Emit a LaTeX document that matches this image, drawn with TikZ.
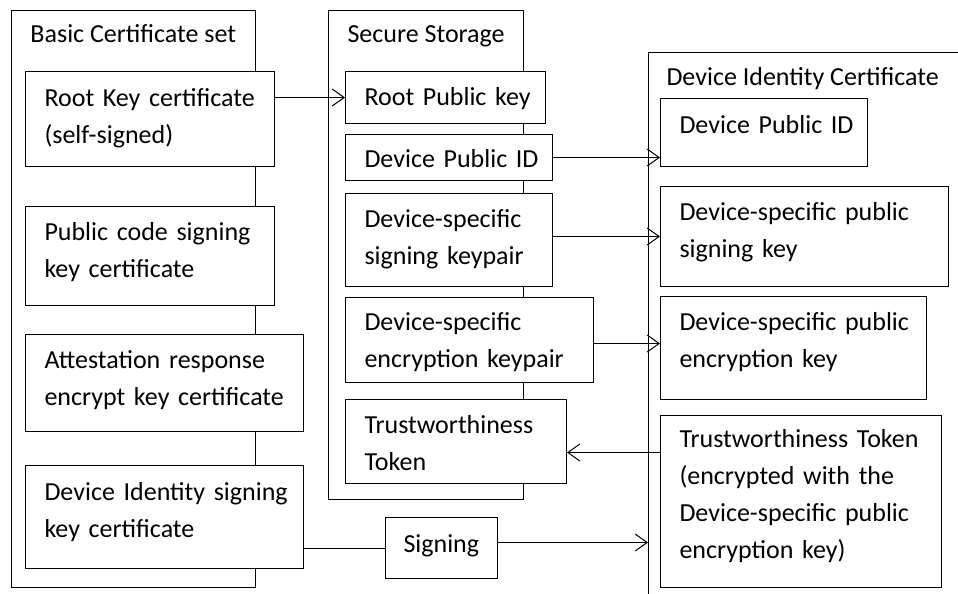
\documentclass[tikz,border=0pt]{standalone}
\usepackage{fontspec}
\setmainfont{Carlito}
\usetikzlibrary{arrows.meta,calc}
\begin{document}
\begin{tikzpicture}[x=1pt,y=-1pt,line width=1pt,
  font=\fontsize{26}{37}\selectfont,
  frame/.style={draw,inner sep=0pt,anchor=north west},
  title/.style={anchor=base west,inner sep=0pt},
  cell/.style n args={3}{draw,fill=white,anchor=north west,align=left,
    inner xsep=19pt,inner ysep=0pt,text width=#1,text height=#2,text depth=#3},
  arr/.style={-{Straight Barb[length=12pt,width=17pt]}}]
\useasboundingbox (0,0) rectangle (958,594);
\clip (0,0) rectangle (958,594);

% group frames
\node[frame,minimum width=244pt,minimum height=577pt] (basic) at (11,10) {};
\node[frame,minimum width=195pt,minimum height=489pt] (secure) at (328,10) {};
\node[frame,minimum width=400pt,minimum height=600pt] (dic) at (648,52) {};

\node[title] (tbasic) at (30,43) {Basic Certificate set};
\node[title] (tsecure) at (347,43) {Secure Storage};
\node[title] (tdic) at (666,85) {Device Identity Certificate};

% basic certificate set
\node[cell={211pt}{35pt}{60pt}] (rk) at (25,71) {\mbox{Root Key certificate}\\\mbox{(self-signed)}};
\node[cell={211pt}{34pt}{65pt}] (pcs) at (25,206) {\mbox{Public code signing}\\\mbox{key certificate}};
\node[cell={240pt}{34pt}{63pt}] (att) at (25,334) {\mbox{Attestation response}\\\mbox{encrypt key certificate}};
\node[cell={240pt}{35pt}{68pt}] (dis) at (25,465) {\mbox{Device Identity signing}\\\mbox{key certificate}};

% secure storage
\node[cell={162pt}{34pt}{18pt}] (rpk) at (345,71) {\mbox{Root Public key}};
\node[cell={169pt}{33pt}{13pt}] (spid) at (345,134) {\mbox{Device Public ID}};
\node[cell={169pt}{34pt}{59pt}] (skp) at (345,193) {\mbox{Device-specific}\\\mbox{signing keypair}};
\node[cell={210pt}{33pt}{52pt}] (ekp) at (345,297) {\mbox{Device-specific}\\\mbox{encryption keypair}};
\node[cell={183pt}{34pt}{50pt}] (stt) at (345,399) {\mbox{Trustworthiness}\\\mbox{Token}};

% signing step
\node[cell={76pt}{35pt}{26pt},inner xsep=18pt] (sig) at (385,517) {\mbox{Signing}};

% device identity certificate
\node[cell={169pt}{35pt}{33pt}] (dpid) at (660,98) {\mbox{Device Public ID}};
\node[cell={250pt}{34pt}{66pt}] (dsk) at (660,186) {\mbox{Device-specific public}\\\mbox{signing key}};
\node[cell={228pt}{34pt}{69pt}] (dek) at (660,296) {\mbox{Device-specific public}\\\mbox{encryption key}};
\node[cell={243pt}{32pt}{140pt}] (dtt) at (660,415) {\mbox{Trustworthiness Token}\\\mbox{(encrypted with the}\\\mbox{Device-specific public}\\\mbox{encryption key)}};

% connectors
\draw[arr] (rk.east |- rpk.west) -- (rpk.west);
\draw[arr] (spid.east) -- (spid.east -| dpid.west);
\draw[arr] (skp.east |- dsk.west) -- (dsk.west);
\draw[arr] ([yshift=-3.5pt]ekp.east) -- ([yshift=-3.5pt]ekp.east -| dek.west);
\draw[arr] ([yshift=-11pt]stt.east -| dtt.west) -- ([yshift=-11pt]stt.east);
\draw (dis.east |- sig.west) -- (sig.west);
\draw[arr] ([yshift=5.5pt]sig.east) -- ([yshift=5.5pt]sig.east -| dic.west);
\end{tikzpicture}
\end{document}
